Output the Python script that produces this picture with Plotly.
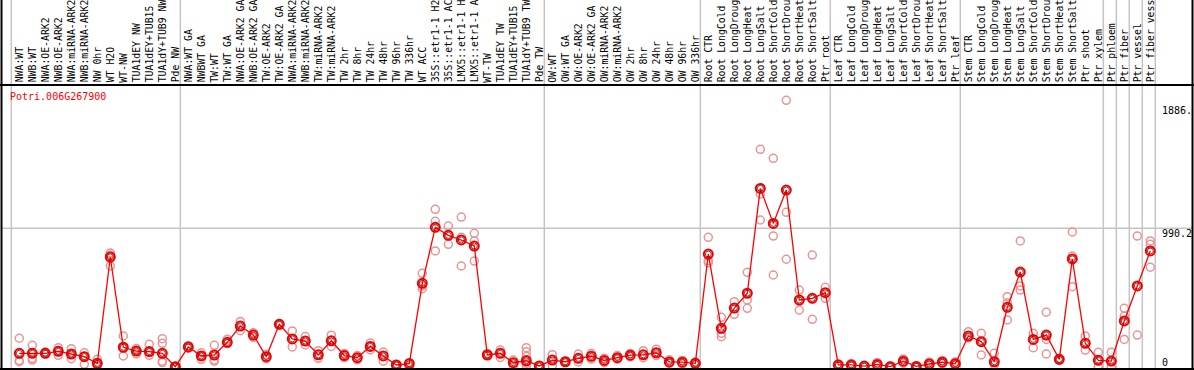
import plotly.graph_objects as go

# ---------------- data ----------------
gene_id = "Potri.006G267900"

labels = [
    "NWA:WT", "NWB:WT", "NWA:OE-ARK2", "NWB:OE-ARK2", "NWA:miRNA-ARK2", "NWB:miRNA-ARK2",
    "NW 0hr", "WT H2O", "WT-NW", "TUA1dEY NW", "TUA1dEY+TUB15 NW", "TUA1dY+TUB9 NW", "Pde NW",
    "NWA:WT GA", "NWBWT GA", "TW:WT", "TW:WT GA", "NWA:OE-ARK2 GA", "NWB:OE-ARK2 GA",
    "TW:OE-ARK2", "TW:OE-ARK2 GA", "NWA:miRNA-ARK2 GA", "NWB:miRNA-ARK2 GA", "TW:miRNA-ARK2",
    "TW:miRNA-ARK2", "TW 2hr", "TW 8hr", "TW 24hr", "TW 48hr", "TW 96hr", "TW 336hr", "WT ACC",
    "35S::etr1-1 H2O", "35S::etr1-1 ACC", "LMX5::etr1-1 H2O", "LMX5::etr1-1 ACC", "WT-TW",
    "TUA1dEY TW", "TUA1dEY+TUB15 TW", "TUA1dY+TUB9 TW", "Pde TW",
    "OW:WT", "OW:WT GA", "OW:OE-ARK2", "OW:OE-ARK2 GA", "OW:miRNA-ARK2", "OW:miRNA-ARK2 GA",
    "OW 2hr", "OW 8hr", "OW 24hr", "OW 48hr", "OW 96hr", "OW 336hr",
    "Root CTR", "Root LongCold", "Root LongDrought", "Root LongHeat", "Root LongSalt",
    "Root ShortCold", "Root ShortDrought", "Root ShortHeat", "Root ShortSalt", "Ptr root",
    "Leaf CTR", "Leaf LongCold", "Leaf LongDrought", "Leaf LongHeat", "Leaf LongSalt",
    "Leaf ShortCold", "Leaf ShortDrought", "Leaf ShortHeat", "Leaf ShortSalt", "Ptr leaf",
    "Stem CTR", "Stem LongCold", "Stem LongDrought", "Stem LongHeat", "Stem LongSalt",
    "Stem ShortCold", "Stem ShortDrought", "Stem ShortHeat", "Stem ShortSalt", "Ptr shoot",
    "Ptr xylem", "Ptr phloem", "Ptr fiber", "Ptr vessel", "Ptr fiber vessel",
]

group_sizes = [13, 28, 12, 10, 10, 11, 1, 1, 1, 1]

means = [
    101, 101, 101, 115, 96, 77, 30, 786, 144, 117, 113, 101, 6,
    146, 82, 89, 179, 295, 231, 77, 307, 203, 188, 90, 190, 85, 70, 150, 82, 18, 27, 599,
    997, 940, 907, 864, 89, 101, 34, 48, 11,
    53, 41, 65, 80, 50, 70, 88, 90, 105, 40, 38, 30,
    807, 279, 423, 528, 1274, 1025, 1262, 480, 492, 532,
    18, 18, 10, 22, 6, 45, 8, 25, 38, 27,
    224, 184, 41, 428, 679, 200, 231, 58, 772, 172,
    51, 46, 331, 580, 829,
]

replicates = [
    [208, 41, 50], [158, 65, 53], [110, 96, 100], [141, 87, 120], [134, 63, 96], [105, 23, 80],
    [58, 12, 25], [814, 722, 800], [224, 82, 140], [136, 96, 120], [165, 87, 110],
    [205, 172, 45, 35], [8, 4, 6],
    [155, 137], [105, 58, 82], [158, 53, 45], [201, 170], [328, 262], [248, 215],
    [92, 62], [313, 301], [260, 146], [220, 160], [120, 65], [230, 150], [100, 70],
    [85, 55], [175, 125], [110, 46], [22, 12], [35, 5], [670, 580, 560],
    [1125, 1040, 829], [1006, 876], [1070, 926, 722], [954, 900, 757], [89, 100],
    [124, 72], [53, 15], [141, 112, 80, 30, 10], [14],
    [91, 15], [45, 38], [96, 40], [100, 60], [65, 35], [85, 60], [100, 75], [120, 70],
    [130, 85], [55, 30], [50, 25], [40, 20],
    [926, 745, 760], [357, 243, 219], [468, 378], [677, 480, 421], [1552, 1234, 1049],
    [1488, 935, 658], [1900, 1104, 770], [551, 409], [800, 343], [570, 492],
    [25, 10], [28, 10], [15, 5], [35, 12], [10, 3], [60, 30], [12, 4], [40, 15], [50, 28], [40, 18],
    [255, 210], [243, 89], [101, 20], [504, 460, 338], [900, 580, 551], [243, 141],
    [393, 200, 96], [64, 52], [964, 793, 575], [224, 124],
    [108, 5], [108, 5], [421, 366, 200], [935, 231], [900, 876, 713],
]

scale_ticks = [1886, 990.2, 0]
scale_texts = ["1886.", "990.2", "0"]

# ---------------- layout geometry ----------------
W, H = 1194, 370
L, R, T, B = 2, 1, 85, 1
PW, PH = W - L - R, H - T - B
X0_PX, DX_PX = 19.3, 13.0          # pixel position of first column, column pitch
ZERO_PX, PX_PER_UNIT = 367.5, 0.1406
MAX_LABEL_CHARS = 14               # the label strip only has room for this many characters

x_range = [1 + (L - X0_PX) / DX_PX, 1 + (W - R - X0_PX) / DX_PX]
y_range = [(ZERO_PX - (H - B)) / PX_PER_UNIT, (ZERO_PX - T) / PX_PER_UNIT]


def px_to_paper_x(px):
    return (px - L) / PW


def px_to_paper_y(py):
    return 1 - (py - T) / PH


def data_x_to_paper(xv):
    return (xv - x_range[0]) / (x_range[1] - x_range[0])


xs = list(range(1, len(labels) + 1))

rep_x, rep_y = [], []
for xi, vals in zip(xs, replicates):
    for v in vals:
        rep_x.append(xi)
        rep_y.append(v)

fig = go.Figure()

fig.add_trace(go.Scatter(
    x=rep_x, y=rep_y, mode="markers",
    marker=dict(symbol="circle-open", size=8, color="#e89494", line=dict(width=1.5, color="#e89494")),
    hoverinfo="skip", showlegend=False,
))
fig.add_trace(go.Scatter(
    x=xs, y=means, mode="lines",
    line=dict(color="#ff0000", width=1.3),
    hoverinfo="skip", showlegend=False,
))
fig.add_trace(go.Scatter(
    x=xs, y=means, mode="markers",
    marker=dict(symbol="circle-open", size=9, color="#ee0000", line=dict(width=2, color="#ee0000")),
    showlegend=False, text=labels,
))
fig.add_trace(go.Scatter(
    x=xs, y=means, mode="markers",
    marker=dict(symbol="circle-open", size=6, color="#8a0000", line=dict(width=0.8, color="#8a0000")),
    hoverinfo="skip", showlegend=False,
))

shapes = []
# group separators
bounds = [0]
for s in group_sizes:
    bounds.append(bounds[-1] + s)
for b in bounds:
    xp = data_x_to_paper(b + 0.385)
    shapes.append(dict(type="line", xref="paper", yref="paper", x0=xp, x1=xp,
                       y0=px_to_paper_y(H - B), y1=px_to_paper_y(0),
                       line=dict(color="#c4c4c4", width=1.5), layer="below"))
# horizontal grid line at the middle scale value
shapes.append(dict(type="line", xref="paper", yref="y", x0=0, x1=1,
                   y0=scale_ticks[1], y1=scale_ticks[1],
                   line=dict(color="#c4c4c4", width=1.5), layer="below"))
# black frame
blk = dict(color="#000000", width=2)
shapes.append(dict(type="line", xref="paper", yref="paper", x0=px_to_paper_x(0), x1=px_to_paper_x(W),
                   y0=1, y1=1, line=blk))
shapes.append(dict(type="line", xref="paper", yref="paper", x0=px_to_paper_x(0), x1=px_to_paper_x(W),
                   y0=px_to_paper_y(H - 1), y1=px_to_paper_y(H - 1), line=blk))
shapes.append(dict(type="line", xref="paper", yref="paper", x0=px_to_paper_x(1.5), x1=px_to_paper_x(1.5),
                   y0=px_to_paper_y(H), y1=px_to_paper_y(0), line=blk))
shapes.append(dict(type="line", xref="paper", yref="paper", x0=px_to_paper_x(W - 1.5), x1=px_to_paper_x(W - 1.5),
                   y0=px_to_paper_y(H), y1=px_to_paper_y(0), line=blk))

annotations = []
mono = "DejaVu Sans Mono"
for xi, lab in zip(xs, labels):
    annotations.append(dict(
        x=xi, xref="x", y=px_to_paper_y(83.5), yref="paper",
        text=lab[:MAX_LABEL_CHARS].rstrip(), textangle=-90, showarrow=False,
        xanchor="center", yanchor="bottom", borderpad=0,
        font=dict(family=mono, size=9.8, color="#000000"),
    ))

annotations.append(dict(
    x=px_to_paper_x(9), xref="paper", y=px_to_paper_y(97), yref="paper",
    text=gene_id, showarrow=False, xanchor="left", yanchor="middle", borderpad=0,
    font=dict(family=mono, size=10, color="#ff0000"),
))

yshifts = [-2, 1, -1]
yanchors = ["top", "top", "bottom"]
for v, t, ys, ya in zip(scale_ticks, scale_texts, yshifts, yanchors):
    annotations.append(dict(
        x=px_to_paper_x(1161), xref="paper", y=v, yref="y",
        text=t, showarrow=False, xanchor="left", yanchor=ya, yshift=ys, borderpad=0,
        font=dict(family=mono, size=10, color="#000000"),
    ))

fig.update_layout(
    width=W, height=H,
    margin=dict(l=L, r=R, t=T, b=B, pad=0),
    paper_bgcolor="#ffffff", plot_bgcolor="#ffffff",
    xaxis=dict(range=x_range, showgrid=False, zeroline=False, showticklabels=False, ticks="",
               fixedrange=True),
    yaxis=dict(range=y_range, showgrid=False, zeroline=False, showticklabels=False, ticks="",
               fixedrange=True),
    shapes=shapes, annotations=annotations, showlegend=False,
)

fig.write_html(
    "out.html",
    config={"displayModeBar": False},
    post_script="document.body.style.margin='0';document.body.style.overflow='hidden';",
)
